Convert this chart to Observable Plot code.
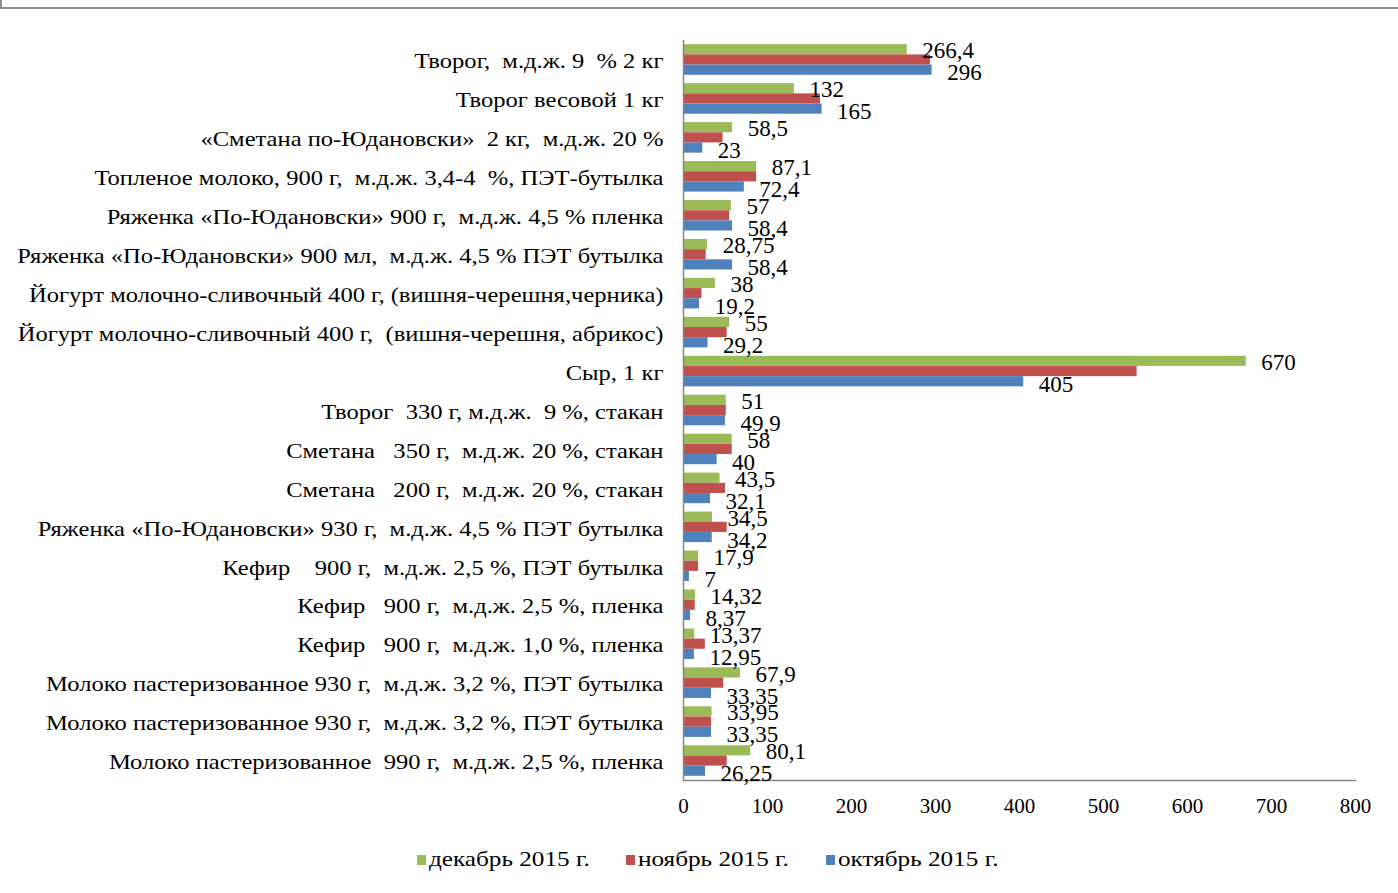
<!DOCTYPE html>
<html><head><meta charset="utf-8">
<script src="https://cdn.jsdelivr.net/npm/d3@7"></script>
<script src="https://cdn.jsdelivr.net/npm/@observablehq/plot@0.6"></script>
<style>
body{margin:0;background:#fff;font-family:"Liberation Serif","Times New Roman",serif;width:1398px;height:893px;position:relative;overflow:hidden}
#frame{position:absolute;left:0;top:0;width:1398px;height:9px;border-bottom:2px solid #8e8e8e;border-left:2px solid #8e8e8e;box-sizing:border-box;z-index:2}
#chart{position:absolute;left:0;top:0;z-index:1}
#legend{position:absolute;left:0;top:847px;width:1398px;height:30px;font-size:21px;color:#000;white-space:pre;z-index:2}
#legend .item{position:absolute;top:0;display:flex;align-items:center}
#legend .sw{width:9px;height:10px;margin-right:3px;flex:none}
#legend .lbl{display:inline-block;transform:scaleX(1.2);transform-origin:left center}
svg text{white-space:pre}
</style></head><body>
<div id="frame"></div>
<div id="chart"></div>
<div id="legend"></div>
<script>
const categories = [
  "Творог,  м.д.ж. 9  % 2 кг",
  "Творог весовой 1 кг",
  "«Сметана по-Юдановски»  2 кг,  м.д.ж. 20 %",
  "Топленое молоко, 900 г,  м.д.ж. 3,4-4  %, ПЭТ-бутылка",
  "Ряженка «По-Юдановски» 900 г,  м.д.ж. 4,5 % пленка",
  "Ряженка «По-Юдановски» 900 мл,  м.д.ж. 4,5 % ПЭТ бутылка",
  "Йогурт молочно-сливочный 400 г, (вишня-черешня,черника)",
  "Йогурт молочно-сливочный 400 г,  (вишня-черешня, абрикос)",
  "Сыр, 1 кг",
  "Творог  330 г, м.д.ж.  9 %, стакан",
  "Сметана   350 г,  м.д.ж. 20 %, стакан",
  "Сметана   200 г,  м.д.ж. 20 %, стакан",
  "Ряженка «По-Юдановски» 930 г,  м.д.ж. 4,5 % ПЭТ бутылка",
  "Кефир    900 г,  м.д.ж. 2,5 %, ПЭТ бутылка",
  "Кефир   900 г,  м.д.ж. 2,5 %, пленка",
  "Кефир   900 г,  м.д.ж. 1,0 %, пленка",
  "Молоко пастеризованное 930 г,  м.д.ж. 3,2 %, ПЭТ бутылка",
  "Молоко пастеризованное 930 г,  м.д.ж. 3,2 %, ПЭТ бутылка",
  "Молоко пастеризованное  990 г,  м.д.ж. 2,5 %, пленка"
];
const seriesNames = ["декабрь 2015 г.", "ноябрь 2015 г.", "октябрь 2015 г."];
const seriesColors = ["#9BBB59", "#C0504D", "#4F81BD"];
const dec2015 = [266.4, 132, 58.5, 87.1, 57, 28.75, 38, 55, 670, 51, 58, 43.5, 34.5, 17.9, 14.32, 13.37, 67.9, 33.95, 80.1];
const nov2015 = [294, 163, 47, 87, 55, 27, 22, 52, 540, 51, 58, 50, 52, 18, 14, 26, 48, 33.35, 52];
const oct2015 = [296, 165, 23, 72.4, 58.4, 58.4, 19.2, 29.2, 405, 49.9, 40, 32.1, 34.2, 7, 8.37, 12.95, 33.35, 33.35, 26.25];
const xTicks = [0, 100, 200, 300, 400, 500, 600, 700, 800];

const rows = categories.map((c, i) => ({i, c, dec: dec2015[i], nov: nov2015[i], oct: oct2015[i]}));
const fmt = v => String(v).replace(".", ",");

const chart = Plot.plot({
  width: 1398,
  height: 840,
  marginLeft: 683,
  marginRight: 43,
  marginTop: 40,
  marginBottom: 60,
  style: {fontFamily: '"Liberation Serif","Times New Roman",serif', color: "#000", background: "#fff", overflow: "visible"},
  x: {domain: [0, 800], ticks: xTicks, label: null},
  y: {type: "band", domain: d3.range(categories.length), padding: 0, round: false, label: null},
  marks: [
    Plot.barX(rows, {y: "i", x1: 0, x2: "dec", fill: seriesColors[0], insetTop: 4.2, insetBottom: 24.6}),
    Plot.barX(rows, {y: "i", x1: 0, x2: "nov", fill: seriesColors[1], insetTop: 14.4, insetBottom: 14.4}),
    Plot.barX(rows, {y: "i", x1: 0, x2: "oct", fill: seriesColors[2], insetTop: 24.6, insetBottom: 4.2}),
    Plot.ruleX([0], {stroke: "#868686", strokeWidth: 1.5}),
    Plot.frame({anchor: "bottom", stroke: "#868686", strokeWidth: 1.5}),
    Plot.text(rows, {y: "i", x: "dec", text: d => fmt(d.dec), dx: 15, dy: -9, textAnchor: "start", fontSize: 23, fill: "#000"}),
    Plot.text(rows, {y: "i", x: "oct", text: d => fmt(d.oct), dx: 15, dy: 13, textAnchor: "start", fontSize: 23, fill: "#000"}),
    Plot.axisY({tickFormat: i => categories[i], tickSize: 0, tickPadding: 20, fontSize: 21, dy: 1.5, label: null}),
    Plot.axisX({ticks: xTicks, tickSize: 0, tickPadding: 18, fontSize: 21, label: null})
  ]
});
document.getElementById("chart").appendChild(chart);

// widen category labels horizontally to match the reference's stretched type
d3.select(chart).selectAll('g[aria-label="y-axis tick label"] text').each(function () {
  const t = this.getAttribute("transform") || "";
  this.setAttribute("transform", t + " scale(1.17,1)");
});

const legendLefts = [417, 626, 826];
const legend = document.getElementById("legend");
seriesNames.forEach((name, k) => {
  const item = document.createElement("div");
  item.className = "item";
  item.style.left = legendLefts[k] + "px";
  const sw = document.createElement("div");
  sw.className = "sw";
  sw.style.background = seriesColors[k];
  const t = document.createElement("span");
  t.className = "lbl";
  t.textContent = name;
  item.appendChild(sw);
  item.appendChild(t);
  legend.appendChild(item);
});
</script>
</body></html>
